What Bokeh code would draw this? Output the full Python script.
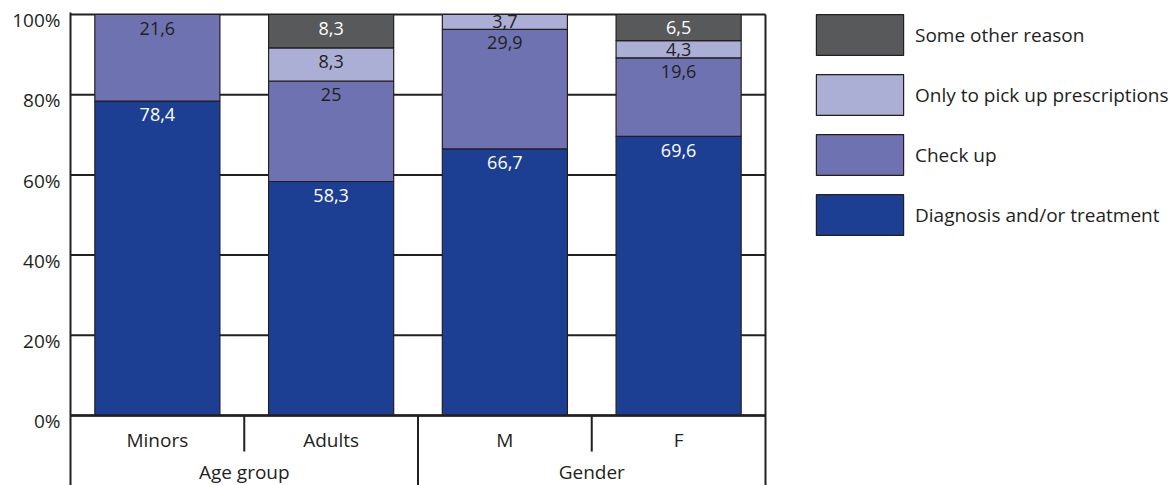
from bokeh.plotting import figure
from bokeh.models import (Range1d, LinearAxis, FixedTicker, PrintfTickFormatter,
                          Legend, LegendItem, ColumnDataSource)
from bokeh.core.properties import value
from bokeh.embed import file_html
from bokeh.resources import INLINE

# ---------------- data ----------------
categories = ["Minors", "Adults", "M", "F"]
category_group = ["Age group", "Age group", "Gender", "Gender"]
series = ["Diagnosis and/or treatment", "Check up",
          "Only to pick up prescriptions", "Some other reason"]
diagnosis = [78.4, 58.3, 66.7, 69.6]
checkup = [21.6, 25.0, 29.9, 19.6]
prescriptions = [0.0, 8.3, 3.7, 4.3]
other = [0.0, 8.3, 0.0, 6.5]
y_ticks = [0, 20, 40, 60, 80, 100]

# ---------------- style ----------------
colors = ["#1c3f94", "#6e72b0", "#abaed5", "#58595b"]
label_colors = ["#ffffff", "#231f20", "#231f20", "#ffffff"]
INK = "#231f20"
FONT = "Open Sans"

n = len(categories)
xs = [i + 0.5 for i in range(n)]
values = [diagnosis, checkup, prescriptions, other]
totals = [sum(v[i] for v in values) for i in range(n)]
shares = [[v[i] / totals[i] * 100.0 for i in range(n)] for v in values]

keys = ["s%d" % k for k in range(len(series))]
data = {"x": xs}
for k, s in zip(keys, shares):
    data[k] = s
source = ColumnDataSource(data)

FIG_W, FIG_H = 1172, 485
LEFT, TOP = 70, 12
Y_BOTTOM = -17.46
Y_TOP = 100.5
CAT_W = 173.75
X_END = (FIG_W - LEFT) / CAT_W

p = figure(width=FIG_W, height=FIG_H,
           x_range=Range1d(0, X_END), y_range=Range1d(Y_BOTTOM, Y_TOP),
           output_backend="svg", toolbar_location=None,
           min_border_left=LEFT, min_border_right=0, min_border_top=TOP, min_border_bottom=0,
           x_axis_location=None, y_axis_location=None)
p.outline_line_color = None
p.grid.visible = False
p.background_fill_color = "white"

# y axis (labels sit slightly below their gridlines, as in the original)
S = 1.4
p.extra_y_ranges = {"lab": Range1d(Y_BOTTOM + S, Y_TOP + S)}
yax = LinearAxis(y_range_name="lab", ticker=FixedTicker(ticks=y_ticks),
                 formatter=PrintfTickFormatter(format="%d%%"))
yax.major_tick_in = 0
yax.major_tick_out = 0
yax.minor_tick_in = 0
yax.minor_tick_out = 0
yax.axis_line_color = INK
yax.axis_line_width = 2
yax.major_label_text_font = FONT
yax.major_label_text_font_size = "19px"
yax.major_label_text_color = INK
yax.major_label_standoff = 10
p.add_layout(yax, "left")

# horizontal gridlines
p.segment(x0=[0] * len(y_ticks), x1=[n] * len(y_ticks), y0=y_ticks, y1=y_ticks,
          line_color=INK, line_width=2)

# stacked bars
rs = p.vbar_stack(keys, x="x", width=0.72, fill_color=colors, line_color=INK,
                  line_width=1.2, source=source)

# value labels
lx, ly, lt, lc = [], [], [], []
for i in range(n):
    bottom = 0.0
    for k in range(len(series)):
        h = shares[k][i]
        top = bottom + h
        if values[k][i] > 0:
            lx.append(xs[i])
            ly.append(top - min(3.4, h / 2.0))
            lt.append(("%g" % values[k][i]).replace(".", ","))
            lc.append(label_colors[k])
        bottom = top
p.text(x=lx, y=ly, text=lt, text_color=lc, text_align="center", text_baseline="middle",
       text_font=value(FONT), text_font_size="18px")

# frame / table lines
p.segment(x0=[n], x1=[n], y0=[Y_BOTTOM], y1=[100], line_color=INK, line_width=2)
p.segment(x0=[0], x1=[n], y0=[0], y1=[0], line_color=INK, line_width=2.5)
bx0, by0 = [], []
for i in range(1, n):
    bx0.append(i)
    by0.append(Y_BOTTOM if category_group[i] != category_group[i - 1] else -9.0)
p.segment(x0=bx0, x1=bx0, y0=by0, y1=[0] * len(bx0), line_color=INK, line_width=2)

# category and group labels
p.text(x=xs, y=[-6.2] * n, text=categories, text_color=INK, text_align="center",
       text_baseline="middle", text_font=value(FONT), text_font_size="19px")
groups = []
for g in category_group:
    if g not in groups:
        groups.append(g)
gx = [sum(xs[i] for i in range(n) if category_group[i] == g) /
      sum(1 for i in range(n) if category_group[i] == g) for g in groups]
p.text(x=gx, y=[-14.0] * len(groups), text=groups, text_color=INK, text_align="center",
       text_baseline="middle", text_font=value(FONT), text_font_size="19px")

# legend (Bokeh insets area glyphs by 10% on each side)
legend = Legend(items=[LegendItem(label=series[k], renderers=[rs[k]])
                       for k in reversed(range(len(series)))],
                location=(735, 245), glyph_width=109, glyph_height=51, spacing=9,
                padding=0, margin=0, label_standoff=1, label_text_font=FONT,
                label_text_font_size="19px", label_text_color=INK,
                border_line_color=None, background_fill_alpha=0)
p.add_layout(legend)

open("out.html", "w").write(file_html(p, INLINE))
